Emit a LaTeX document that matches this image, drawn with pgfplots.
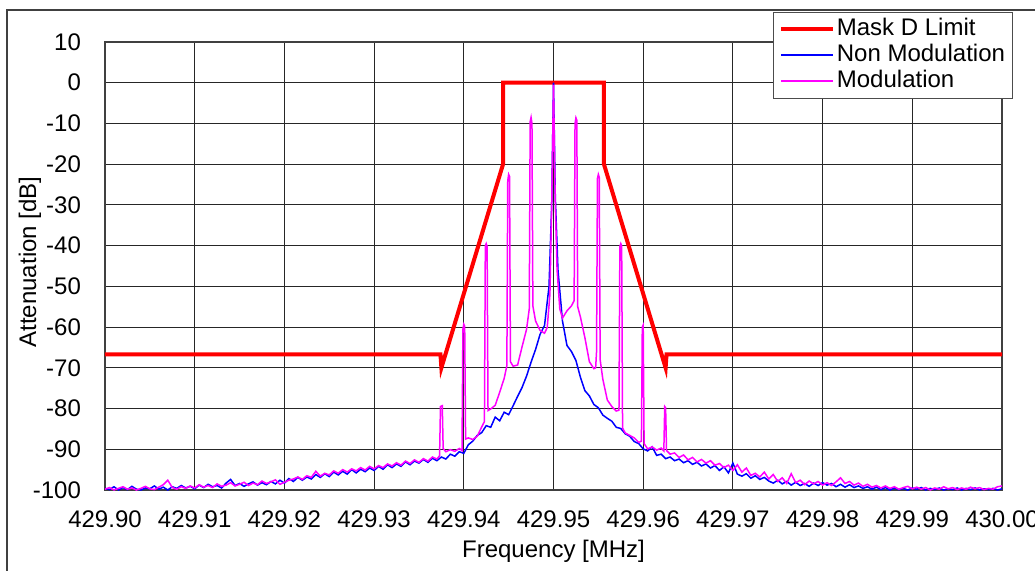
\documentclass[border=0pt]{standalone}
\usepackage{fontspec}
\setmainfont{Liberation Sans}
\usepackage{pgfplots}
\pgfplotsset{compat=1.18}
\definecolor{xlred}{RGB}{255,0,0}
\definecolor{xlblue}{RGB}{0,0,255}
\definecolor{xlmag}{RGB}{255,0,255}
\begin{document}
\begin{tikzpicture}[font=\fontsize{12}{14}\selectfont]
\useasboundingbox (0,0) rectangle (517.5pt,285pt);
\draw[black!75, line width=0.6pt] (3.5pt,-20pt) -- (3.5pt,280pt) -- (540pt,280pt);
\node[rotate=90, anchor=center] at (15pt,154pt) {Attenuation [dB]};
\begin{axis}[
  at={(52.5pt,40pt)}, anchor=south west,
  width=448.5pt, height=224pt, scale only axis,
  xmin=0, xmax=100, ymin=-100, ymax=10,
  xtick={0,10,...,100},
  xticklabels={429.90,429.91,429.92,429.93,429.94,429.95,429.96,429.97,429.98,429.99,430.00},
  ytick={-100,-90,...,10},
  yticklabels={-100,-90,-80,-70,-60,-50,-40,-30,-20,-10,0,10},
  major tick length=0pt,
  xticklabel style={yshift=-7pt},
  yticklabel style={xshift=-8.5pt},
  grid=major,
  major grid style={black!85, line width=0.5pt},
  axis line style={black!75, line width=0.7pt},
  xlabel={Frequency [MHz]},
  xlabel style={at={(axis description cs:0.5,0)}, anchor=center, yshift=-30.5pt},
  clip=true,
  legend cell align=left,
  legend style={at={(rel axis cs:0.7447,1.067)}, anchor=north west,
    draw=black!70, fill=white, inner xsep=3pt, inner ysep=2pt,
    font=\fontsize{12}{13}\selectfont, row sep=0pt,
    nodes={inner sep=0.75pt, text height=9pt, text depth=2.5pt}},
]
\addplot[xlred, line width=2pt, legend image code/.code={\draw[xlred, line width=2pt] (0pt,0pt) -- (26pt,0pt);}] coordinates {
(0,-66.7) (37.4,-66.7) (37.5,-70) (44.375,-20) (44.375,0) (55.625,0) (55.625,-20) (62.5,-70) (62.6,-66.7) (100,-66.7)};
\addlegendentry{Mask D Limit}
\addplot[xlblue, line width=0.75pt, legend image code/.code={\draw[xlblue, line width=1pt] (0pt,0pt) -- (26pt,0pt);}] coordinates {
(0,-99.6) (0.5,-99.9) (1,-99.2) (1.5,-100) (2,-99.4) (2.5,-99.9) (3,-99.1) (3.5,-99.8) (4,-100) (4.5,-99.5)
(5,-99.7) (5.5,-99.0) (6,-99.8) (6.5,-99.3) (7,-100) (7.5,-99.2) (8,-99.6) (8.5,-98.9) (9,-99.5) (9.5,-99.1)
(10,-99.7) (10.5,-98.8) (11,-99.4) (11.5,-98.6) (12,-99.2) (12.5,-98.9) (13,-99.5) (13.5,-98.3) (14,-97.4) (14.5,-98.9)
(15,-98.4) (15.5,-99.1) (16,-98.5) (16.5,-98.0) (17,-98.8) (17.5,-98.2) (18,-98.7) (18.5,-97.9) (19,-98.5) (19.5,-97.6)
(20,-98.3) (20.5,-97.2) (21,-97.9) (21.5,-96.9) (22,-97.6) (22.5,-96.8) (23,-97.3) (23.5,-96.2) (24,-96.9) (24.5,-96.0)
(25,-96.7) (25.5,-95.6) (26,-96.3) (26.5,-95.4) (27,-96.1) (27.5,-95.0) (28,-95.8) (28.5,-94.9) (29,-95.5) (29.5,-94.6)
(30,-95.2) (30.5,-94.2) (31,-94.9) (31.5,-93.8) (32,-94.5) (32.5,-93.6) (33,-94.2) (33.5,-93.1) (34,-93.8) (34.5,-92.9)
(35,-93.4) (35.5,-92.5) (36,-93.2) (36.5,-92.2) (37,-92.8) (37.5,-91.9) (38,-92.4) (38.5,-91.2) (39,-91.7) (39.5,-90.6)
(40,-91.0) (40.5,-88.9) (41,-88.0) (41.5,-86.6) (42,-85.9) (42.5,-84.2) (43,-84.6) (43.5,-82.1) (44,-83.0) (44.5,-80.9)
(45,-81.5) (45.5,-79.3) (46,-77.0) (46.5,-74.8) (47,-72.0) (47.5,-68.6) (48,-65.5) (48.5,-61.8) (49,-59.6) (49.5,-50.0)
(49.8,-30) (50,0) (50.2,-28) (50.5,-46.0) (51,-58.5) (51.5,-64.5) (52,-66.0) (52.5,-68.2) (53,-72.3) (53.5,-75.6)
(54,-76.9) (54.5,-79.0) (55,-79.8) (55.5,-81.6) (56,-82.4) (56.5,-83.1) (57,-84.6) (57.5,-84.9) (58,-86.2) (58.5,-86.8)
(59,-88.1) (59.5,-88.6) (60,-89.9) (60.5,-90.4) (61,-89.4) (61.5,-91.5) (62,-91.2) (62.5,-92.3) (63,-91.9) (63.5,-92.8)
(64,-92.4) (64.5,-93.3) (65,-92.8) (65.5,-93.7) (66,-93.2) (66.5,-94.1) (67,-93.6) (67.5,-94.6) (68,-94.0) (68.5,-95.2)
(69,-94.3) (69.5,-95.8) (70,-93.4) (70.5,-96.1) (71,-96.6) (71.5,-96.0) (72,-97.1) (72.5,-96.5) (73,-97.4) (73.5,-96.9)
(74,-97.8) (74.5,-98.3) (75,-97.6) (75.5,-98.5) (76,-97.9) (76.5,-98.8) (77,-98.1) (77.5,-98.9) (78,-98.4) (78.5,-99.1)
(79,-98.3) (79.5,-98.9) (80,-98.2) (80.5,-98.8) (81,-98.4) (81.5,-99.2) (82,-98.6) (82.5,-99.3) (83,-98.7) (83.5,-99.4)
(84,-99.0) (84.5,-99.6) (85,-99.2) (85.5,-99.8) (86,-99.3) (86.5,-99.9) (87,-99.4) (87.5,-100) (88,-99.5) (88.5,-99.9)
(89,-99.6) (89.5,-100) (90,-99.5) (90.5,-99.8) (91,-99.4) (91.5,-100) (92,-99.6) (92.5,-99.9) (93,-99.5) (93.5,-100)
(94,-99.7) (94.5,-99.9) (95,-99.5) (95.5,-100) (96,-99.6) (96.5,-99.9) (97,-99.5) (97.5,-100) (98,-99.7) (98.5,-99.9)
(99,-99.6) (99.5,-100) (100,-99.7)};
\addlegendentry{Non Modulation}
\addplot[xlmag, line width=0.75pt, legend image code/.code={\draw[xlmag, line width=1pt] (0pt,0pt) -- (26pt,0pt);}] coordinates {
(0,-99.8) (0.5,-99.4) (1,-100) (1.5,-99.6) (2,-99.2) (2.5,-99.8) (3,-99.5) (3.5,-100) (4,-99.6) (4.5,-99.1)
(5,-99.7) (5.5,-99.9) (6,-99.3) (6.5,-98.7) (7,-97.6) (7.5,-99.4) (8,-99.8) (8.5,-99.2) (9,-99.6) (9.5,-99.0)
(10,-99.5) (10.5,-98.7) (11,-99.3) (11.5,-98.9) (12,-99.4) (12.5,-98.5) (13,-99.1) (13.5,-98.8) (14,-98.2) (14.5,-99.0)
(15,-98.6) (15.5,-98.1) (16,-98.9) (16.5,-98.3) (17,-98.7) (17.5,-97.8) (18,-98.4) (18.5,-98.0) (19,-97.5) (19.5,-98.6)
(20,-98.1) (20.5,-97.6) (21,-97.3) (21.5,-96.8) (22,-97.4) (22.5,-96.5) (23,-96.9) (23.5,-95.4) (24,-96.6) (24.5,-95.9)
(25,-96.3) (25.5,-95.3) (26,-95.9) (26.5,-95.0) (27,-95.6) (27.5,-94.8) (28,-95.3) (28.5,-94.5) (29,-95.1) (29.5,-94.2)
(30,-94.8) (30.5,-94.0) (31,-94.5) (31.5,-93.6) (32,-94.1) (32.5,-93.3) (33,-93.9) (33.5,-92.9) (34,-93.5) (34.5,-92.6)
(35,-93.2) (35.5,-92.3) (36,-92.9) (36.5,-91.9) (37,-92.4) (37.3,-91.6) (37.4,-79.5) (37.6,-79.3) (37.7,-89.8) (38,-90.6)
(38.5,-90.1) (39,-90.5) (39.5,-89.8) (39.8,-90.3) (39.9,-60.5) (40,-59.3) (40.1,-59.8) (40.2,-87.5) (40.5,-87.2) (41,-87.6)
(41.5,-86.8) (42,-84.5) (42.3,-83.2) (42.4,-40.0) (42.5,-39.5) (42.6,-40.2) (42.7,-80.5) (43,-80.1) (43.5,-79.2) (44,-76.0)
(44.5,-72.6) (44.8,-69.5) (44.9,-24.0) (45,-22.5) (45.1,-23.0) (45.2,-68.5) (45.5,-69.6) (46,-69.3) (46.5,-64.8) (47,-60.5)
(47.3,-55.5) (47.4,-9.5) (47.5,-8.5) (47.6,-10) (47.7,-54.8) (48,-58.5) (48.5,-60.8) (49,-61.5) (49.3,-60.1) (49.6,-52)
(49.8,-30) (50,-0.5) (50.2,-30) (50.4,-46.0) (50.7,-55.5) (51,-57.8) (51.5,-56.0) (52,-54.8) (52.3,-53.5) (52.4,-10)
(52.5,-8.6) (52.6,-9.2) (52.7,-55.0) (53,-57.5) (53.5,-62.6) (54,-68.5) (54.5,-70.2) (54.7,-70.0) (54.8,-66.0) (54.9,-23.5)
(55,-22.5) (55.1,-23.2) (55.2,-68.0) (55.5,-72.8) (56,-77.9) (56.5,-79.5) (57,-80.6) (57.3,-80.4) (57.4,-40.2) (57.5,-39.5)
(57.6,-40.0) (57.7,-84.8) (58,-86.0) (58.5,-86.6) (59,-87.2) (59.5,-88.3) (59.8,-88.0) (59.9,-60.0) (60,-59.5) (60.1,-88.6)
(60.5,-89.9) (61,-89.4) (61.5,-90.2) (62,-89.7) (62.3,-90.4) (62.4,-79.5) (62.5,-79.8) (62.6,-90.3) (63,-91.2) (63.5,-90.9)
(64,-92.0) (64.5,-91.4) (65,-92.6) (65.5,-92.0) (66,-93.1) (66.5,-92.5) (67,-93.4) (67.5,-92.8) (68,-93.9) (68.5,-93.5)
(69,-94.5) (69.5,-93.9) (70,-95.2) (70.5,-93.8) (71,-95.6) (71.5,-94.6) (72,-96.4) (72.5,-95.9) (73,-96.8) (73.5,-95.6)
(74,-97.3) (74.5,-96.2) (75,-97.9) (75.5,-97.0) (76,-98.4) (76.5,-96.0) (77,-98.2) (77.5,-97.6) (78,-98.7) (78.5,-97.8)
(79,-98.5) (79.5,-97.9) (80,-98.8) (80.5,-98.2) (81,-98.9) (81.5,-98.0) (82,-97.0) (82.5,-98.4) (83,-97.9) (83.5,-98.8)
(84,-98.3) (84.5,-99.1) (85,-98.6) (85.5,-99.3) (86,-98.9) (86.5,-99.5) (87,-99.0) (87.5,-99.6) (88,-99.2) (88.5,-99.8)
(89,-99.4) (89.5,-99.1) (90,-99.7) (90.5,-99.3) (91,-99.8) (91.5,-99.4) (92,-100) (92.5,-99.5) (93,-99.8) (93.5,-99.2)
(94,-99.7) (94.5,-99.4) (95,-99.9) (95.5,-99.5) (96,-99.8) (96.5,-99.3) (97,-99.7) (97.5,-99.4) (98,-99.9) (98.5,-99.6)
(99,-99.8) (99.5,-99.2) (100,-99.0)};
\addlegendentry{Modulation}
\node at (rel axis cs:0.505,1) [anchor=south, yshift=0.5pt] {Emission Masks};
\end{axis}
\end{tikzpicture}
\end{document}
